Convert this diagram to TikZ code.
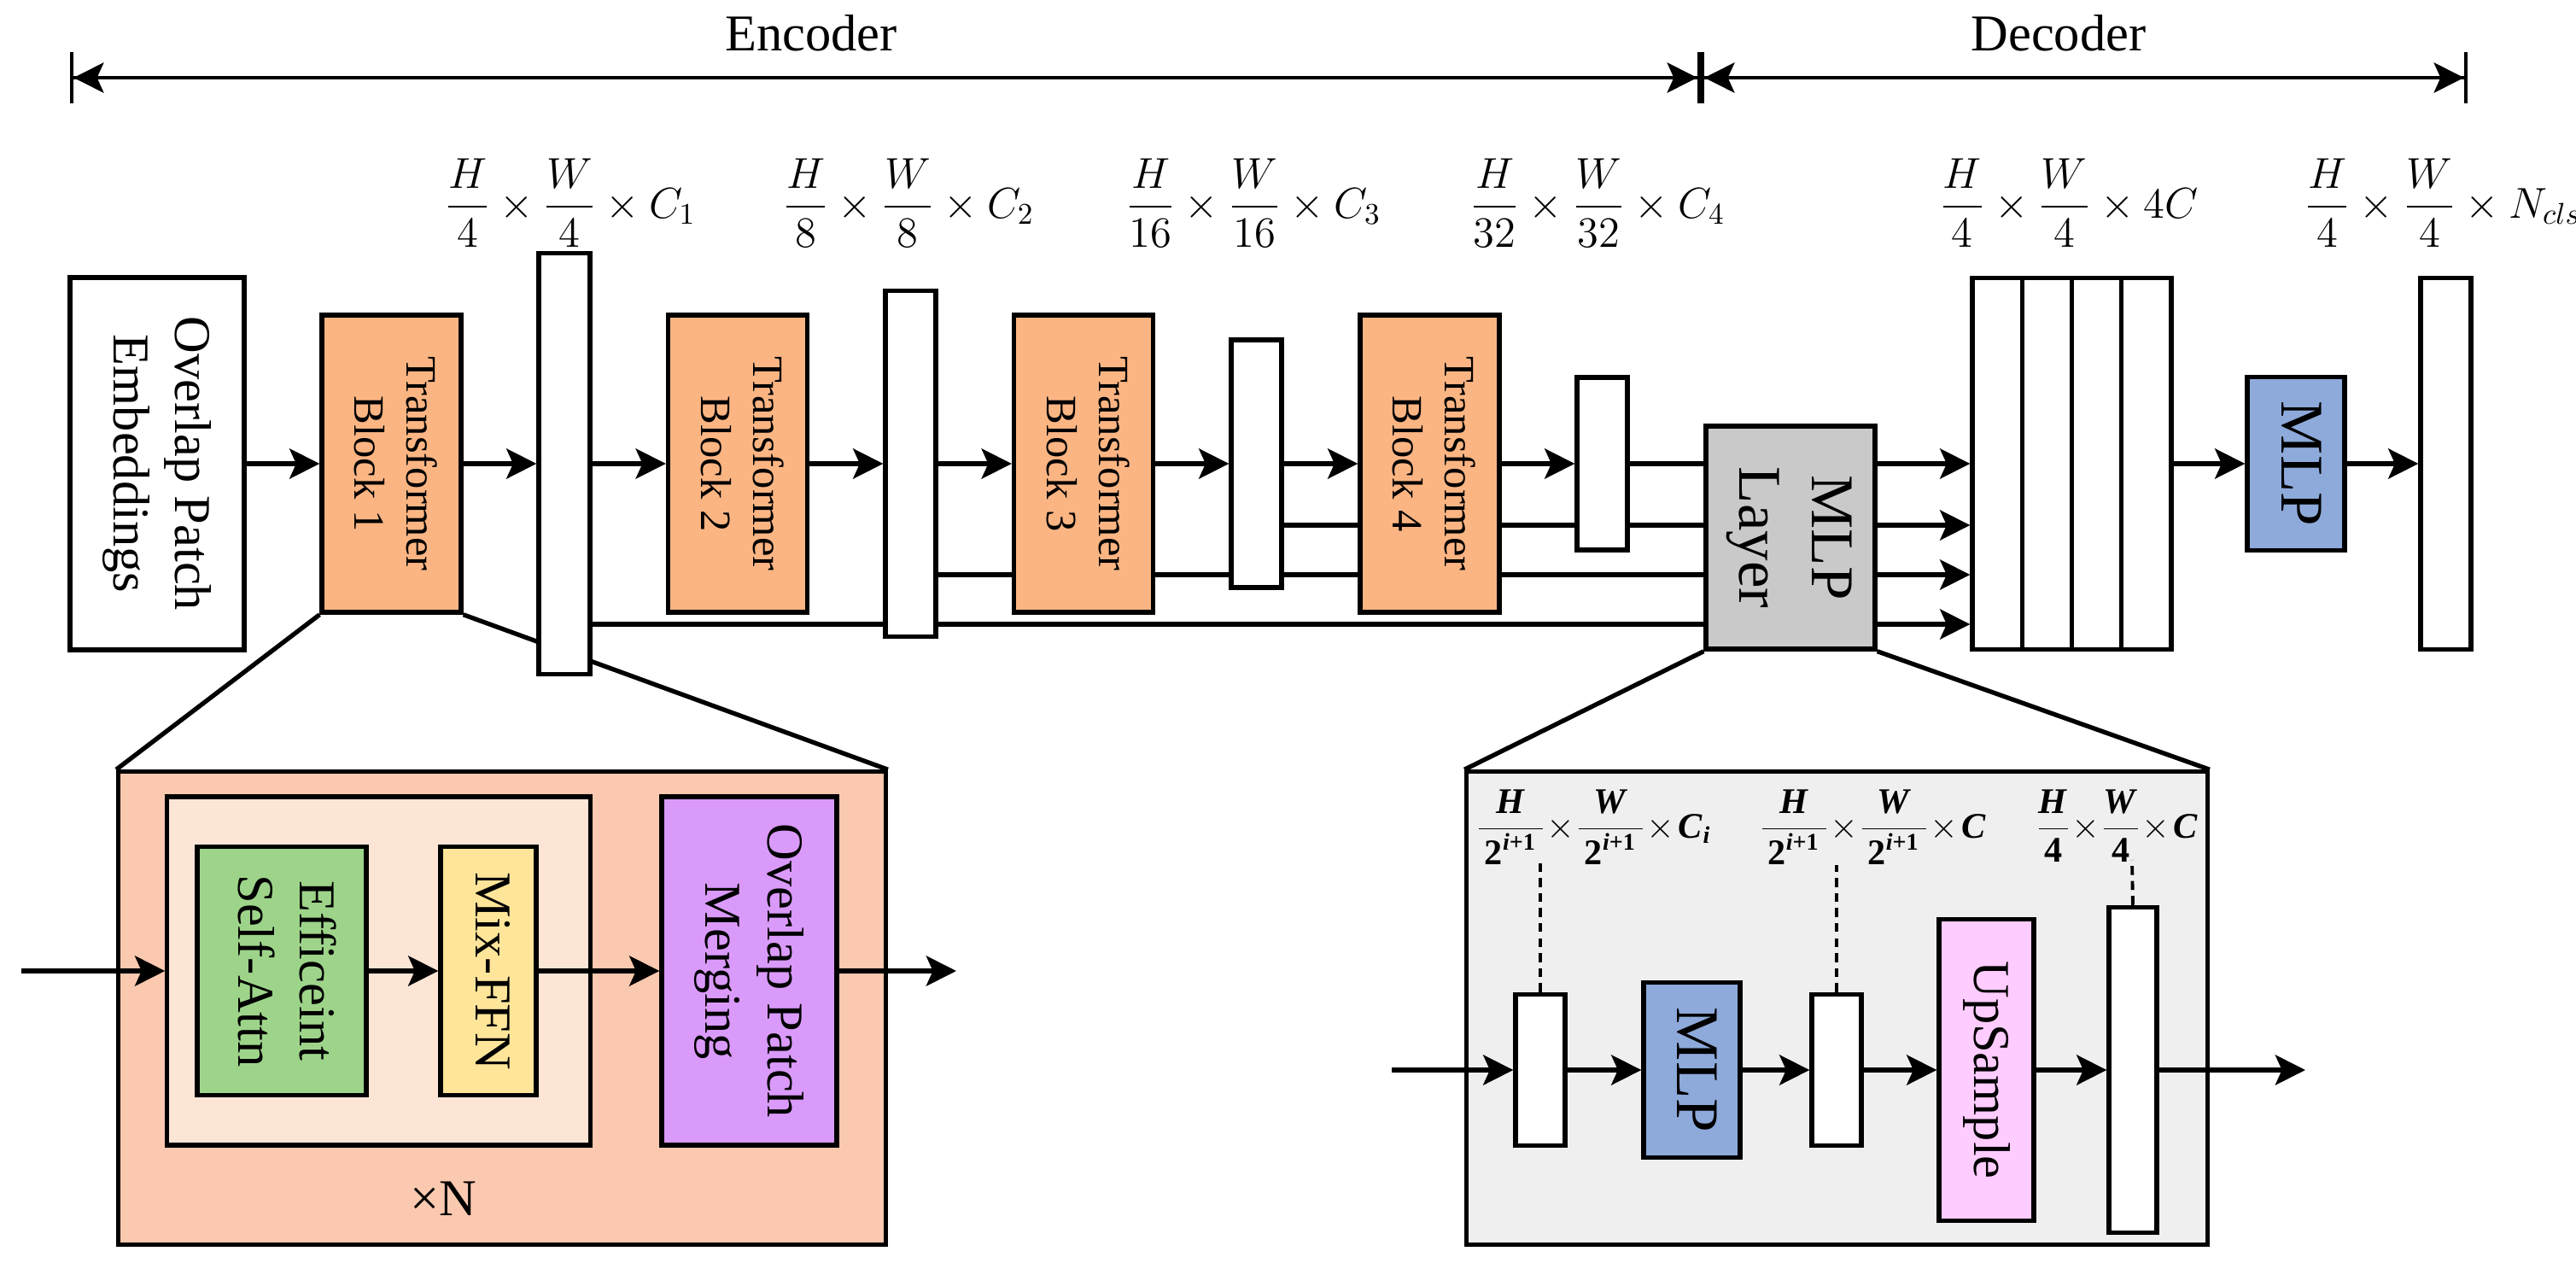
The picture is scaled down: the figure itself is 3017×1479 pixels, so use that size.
\documentclass[tikz,border=0pt]{standalone}
\usepackage{fontspec}
\setmainfont{Liberation Serif}
\usepackage{amsmath}
\usetikzlibrary{arrows.meta}
\pgfdeclarelayer{bg}
\pgfsetlayers{bg,main}
\definecolor{tbor}{HTML}{FBB583}
\definecolor{encout}{HTML}{FBC9AF}
\definecolor{encin}{HTML}{FDE5D6}
\definecolor{esagreen}{HTML}{9DD48A}
\definecolor{ffnyel}{HTML}{FFE599}
\definecolor{opmpur}{HTML}{DA9AFA}
\definecolor{mlpblue}{HTML}{8EAADB}
\definecolor{mlpgray}{HTML}{C9C9C9}
\definecolor{decbg}{HTML}{EFEFEF}
\definecolor{uppink}{HTML}{FFCCFF}
\newcommand\fsEnc{\fontsize{17.2pt}{20.6pt}\selectfont}
\newcommand\fsTB{\fontsize{14.4pt}{17.3pt}\selectfont}
\newcommand\fsMLP{\fontsize{20.2pt}{24.2pt}\selectfont}
\newcommand\fsLab{\fontsize{13.6pt}{16.5pt}\selectfont}
\newcommand\fsDLab{\fontsize{12pt}{14.4pt}\selectfont\medmuskip=2mu\nulldelimiterspace=0pt}
\newcommand\rtext[1]{\rotatebox{-90}{\begin{tabular}{@{}c@{}}#1\end{tabular}}}
\newcommand\lbH{\textbf{\textit{H}}}
\newcommand\lbW{\textbf{\textit{W}}}
\newcommand\lbC{\textbf{\textit{C}}}
\newcommand\lbP{\,\textbf{2}^{\textbf{\textit{i}}\textbf{+1}}\,}
\newcommand\lbF{\textbf{4}}
\tikzset{
  box/.style={draw, line width=1.5pt, inner sep=0pt, align=center},
  colbox/.style={box, fill=white, minimum width=0.59cm},
  tbbox/.style={box, fill=tbor, minimum width=1.63cm, minimum height=3.48cm, font=\fsTB},
  arr/.style={line width=1.5pt, -{Stealth[length=10pt,width=10pt,inset=2.2pt]}},
  ln/.style={line width=1.5pt},
  dsh/.style={line width=1.1pt, dash pattern=on 3pt off 2pt},
  spanarrow/.style={line width=1.3pt, {Bar[width=0.6cm,line width=1.2pt]Stealth[length=10pt,width=10pt,inset=2.2pt]}-{Stealth[length=10pt,width=10pt,inset=2.2pt]Bar[width=0.6cm,line width=1.2pt]}},
  lab/.style={anchor=base, inner sep=0pt, font=\fsLab},
  dlab/.style={anchor=base, inner sep=0pt, font=\fsDLab},
}
\begin{document}
\begin{tikzpicture}[x=0.01cm,y=-0.01cm]
\useasboundingbox (0,0) rectangle (3017,1479);

% ---- Encoder / Decoder ranges
\coordinate (eL) at (82,91);
\coordinate (eM) at (1992,91);
\coordinate (eR) at (2890,91);
\draw[spanarrow] (eL) -- (eM);
\draw[spanarrow] (eM) -- (eR);
\node[anchor=base, font=\fsEnc, inner sep=0pt] (enctxt) at (950,60) {Encoder};
\node[anchor=base, font=\fsEnc, inner sep=0pt] (dectxt) at (2411,60) {Decoder};

% ---- level coordinates
\coordinate (yA) at (0,543);
\coordinate (yB) at (0,615);
\coordinate (yC) at (0,673);
\coordinate (yD) at (0,731);

% ---- main row
\node[box, fill=white, minimum width=2.04cm, minimum height=4.36cm, font=\fsEnc] (ope) at (184,543) {\rtext{Overlap Patch\\Embeddings}};
\node[tbbox] (tb1) at (458.5,543) {\rtext{Transformer\\Block 1}};
\node[colbox, minimum width=0.60cm, minimum height=4.93cm] (col1) at (661,543) {};
\node[tbbox] (tb2) at (864,543) {\rtext{Transformer\\Block 2}};
\node[colbox, minimum height=4.05cm] (col2) at (1066.5,543) {};
\node[tbbox] (tb3) at (1269,543) {\rtext{Transformer\\Block 3}};
\node[colbox, minimum height=2.90cm] (col3) at (1471.5,543) {};
\node[tbbox] (tb4) at (1674.5,543) {\rtext{Transformer\\Block 4}};
\node[colbox, minimum height=2.02cm] (col4) at (1876.5,543) {};
\node[box, fill=mlpgray, minimum width=1.98cm, minimum height=2.61cm, font=\fsMLP] (mlpl) at (2097,629.5) {\rtext{MLP\\Layer}};
\node[colbox, minimum width=0.5825cm, minimum height=4.35cm] (cat1) at (2339.1,543) {};
\node[colbox, minimum width=0.5825cm, minimum height=4.35cm] (cat2) at (2397.4,543) {};
\node[colbox, minimum width=0.5825cm, minimum height=4.35cm] (cat3) at (2455.6,543) {};
\node[colbox, minimum width=0.5825cm, minimum height=4.35cm] (cat4) at (2513.9,543) {};
\node[box, fill=mlpblue, minimum width=1.14cm, minimum height=2.03cm, font=\fsMLP] (mlp) at (2689,543) {\rtext{MLP}};
\node[colbox, minimum height=4.35cm] (fin) at (2864.5,543) {};

% ---- shape labels
\node[lab] (l1) at (668,255) {$\dfrac{H}{4}\times\dfrac{W}{4}\times C_1$};
\node[lab] (l2) at (1064,255) {$\dfrac{H}{8}\times\dfrac{W}{8}\times C_2$};
\node[lab] (l3) at (1468,255) {$\dfrac{H}{16}\times\dfrac{W}{16}\times C_3$};
\node[lab] (l4) at (1871,255) {$\dfrac{H}{32}\times\dfrac{W}{32}\times C_4$};
\node[lab] (l5) at (2423,255) {$\dfrac{H}{4}\times\dfrac{W}{4}\times 4C$};
\node[lab] (l6) at (2861,255) {$\dfrac{H}{4}\times\dfrac{W}{4}\times N_{cls}$};

% ---- main arrows
\draw[arr] (ope) -- (tb1);
\draw[arr] (tb1) -- (col1);
\draw[arr] (col1) -- (tb2);
\draw[arr] (tb2) -- (col2);
\draw[arr] (col2) -- (tb3);
\draw[arr] (tb3) -- (col3);
\draw[arr] (col3) -- (tb4);
\draw[arr] (tb4) -- (col4);
\draw[ln] (col4.east) -- (mlpl.west |- yA);
\draw[arr] (mlpl.east |- yA) -- (cat1.west |- yA);
\draw[arr] (mlpl.east |- yB) -- (cat1.west |- yB);
\draw[arr] (mlpl.east |- yC) -- (cat1.west |- yC);
\draw[arr] (mlpl.east |- yD) -- (cat1.west |- yD);
\draw[arr] (cat4) -- (mlp);
\draw[arr] (mlp) -- (fin);

% ---- encoder detail
\node[box, fill=encout, minimum width=8.98cm, minimum height=5.53cm] (encbox) at (588,1180.5) {};
\node[box, fill=encin, minimum width=4.95cm, minimum height=4.08cm] (inner) at (443.5,1137) {};
\node[box, fill=esagreen, minimum width=1.98cm, minimum height=2.91cm, font=\fsEnc] (esa) at (330,1137) {\rtext{Efficeint\\Self-Attn}};
\node[box, fill=ffnyel, minimum width=1.12cm, minimum height=2.91cm, font=\fsEnc] (ffn) at (572,1137) {\rtext{Mix-FFN}};
\node[box, fill=opmpur, minimum width=2.05cm, minimum height=4.08cm, font=\fsEnc] (opm) at (877.5,1137) {\rtext{Overlap Patch\\Merging}};
\node[font=\fsEnc, inner sep=0pt] (xn) at (519,1404) {×N};
\coordinate (encin) at (25,1137);
\coordinate (encoutp) at (1120,1137);
\draw[arr] (encin) -- (inner.west);
\draw[arr] (esa) -- (ffn);
\draw[arr] (ffn) -- (opm);
\draw[arr] (opm) -- (encoutp);

% ---- decoder detail
\node[box, fill=decbg, minimum width=8.67cm, minimum height=5.53cm] (decbox) at (2151.5,1180.5) {};
\node[colbox, minimum width=0.58cm, minimum height=1.77cm] (colA) at (1804,1253) {};
\node[box, fill=mlpblue, minimum width=1.13cm, minimum height=2.05cm, font=\fsMLP] (dmlp) at (1981.5,1253) {\rtext{MLP}};
\node[colbox, minimum width=0.58cm, minimum height=1.77cm] (colB) at (2151,1253) {};
\node[box, fill=uppink, minimum width=1.11cm, minimum height=3.53cm, font=\fsEnc] (ups) at (2326.5,1253) {\rtext{UpSample}};
\node[colbox, minimum width=0.56cm, minimum height=3.81cm] (colC) at (2498,1253) {};
\node[dlab] (lblA) at (1868,981) {$\dfrac{\lbH}{\lbP}\times\dfrac{\lbW}{\lbP}\times \lbC_{\textbf{\textit{i}}}$};
\node[dlab] (lblB) at (2195,981) {$\dfrac{\lbH}{\lbP}\times\dfrac{\lbW}{\lbP}\times \lbC$};
\node[dlab] (lblC) at (2481,981) {$\dfrac{\lbH}{\lbF}\times\dfrac{\lbW}{\lbF}\times \lbC$};
\coordinate (da) at (1804,1009);
\coordinate (db) at (2151,1013);
\coordinate (dc) at (2497,1007);
\draw[dsh] (colA.north) -- (da);
\draw[dsh] (colB.north) -- (db);
\draw[dsh] (colC.north) -- (dc);
\coordinate (decin) at (1630,1253);
\coordinate (decout) at (2700,1253);
\draw[arr] (decin) -- (colA);
\draw[arr] (colA) -- (dmlp);
\draw[arr] (dmlp) -- (colB);
\draw[arr] (colB) -- (ups);
\draw[arr] (ups) -- (colC);
\draw[arr] (colC) -- (decout);

% ---- background lines
\begin{pgfonlayer}{bg}
\draw[ln] (col3.east |- yB) -- (mlpl.west |- yB);
\draw[ln] (col2.east |- yC) -- (mlpl.west |- yC);
\draw[ln] (col1.east |- yD) -- (mlpl.west |- yD);
\draw[ln] (tb1.south west) -- (encbox.north west);
\draw[ln] (tb1.south east) -- (encbox.north east);
\draw[ln] (mlpl.south west) -- (decbox.north west);
\draw[ln] (mlpl.south east) -- (decbox.north east);
\end{pgfonlayer}
\end{tikzpicture}
\end{document}
